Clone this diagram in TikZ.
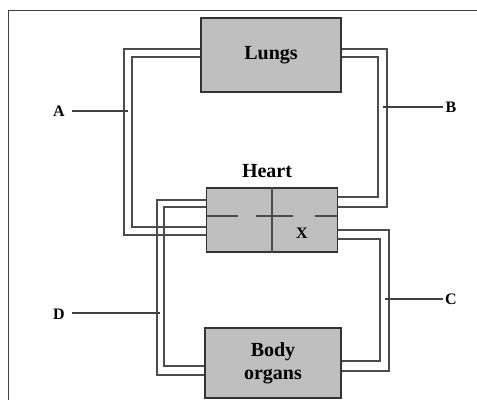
\documentclass[tikz,border=0pt]{standalone}
\usepackage{fontspec}
\setmainfont{Liberation Serif}
\begin{document}
\begin{tikzpicture}[x=1pt,y=-1pt,
  organ/.style={draw=black!80,line width=1.3pt,fill=black!25,inner sep=0pt,font=\fontsize{20}{23}\selectfont\bfseries,align=center},
  vessel/.style={draw=black!70,line width=1.2pt},
  pointer/.style={draw=black!75,line width=1.1pt},
  lbl/.style={font=\fontsize{16}{18}\selectfont\bfseries,inner sep=0pt}]
\useasboundingbox (0,0) rectangle (477,400);
\draw[black!75,line width=1pt] (8,400) -- (8,10) -- (477,10);
% boxes (as nodes)
\node[organ,minimum width=140pt,minimum height=74pt] (lungs) at (271,55) {Lungs};
\node[organ,minimum width=131pt,minimum height=64pt] (heart) at (272,220) {};
\node[organ,minimum width=136pt,minimum height=70pt] (body) at (273,363) {Body\\organs};
% vessels
\draw[vessel] (lungs.west |- 0,49) -| (124,235) -- (heart.west |- 0,235);
\draw[vessel] (lungs.west |- 0,57) -| (132,227) -- (heart.west |- 0,227);
\draw[vessel] (lungs.east |- 0,49) -| (387,207) -- (heart.east |- 0,207);
\draw[vessel] (lungs.east |- 0,57) -| (378,197) -- (heart.east |- 0,197);
\draw[vessel] (heart.east |- 0,230) -| (389,371) -- (body.east |- 0,371);
\draw[vessel] (heart.east |- 0,239) -| (380,361) -- (body.east |- 0,361);
\draw[vessel] (heart.west |- 0,200) -| (157,375) -- (body.west |- 0,375);
\draw[vessel] (heart.west |- 0,207) -| (164,366) -- (body.west |- 0,366);
% redraw boxes on top
\node[organ,minimum width=140pt,minimum height=74pt] at (lungs) {Lungs};
\node[organ,minimum width=131pt,minimum height=64pt] at (heart) {};
\node[organ,minimum width=136pt,minimum height=70pt] at (body) {Body\\organs};
% heart interior
\draw[black!70,line width=1.2pt] (heart.north -| 272,0) -- (heart.south -| 272,0);
\draw[black!70,line width=1.2pt] (heart.west |- 0,216) -- (238,216)
  (256,216) -- (293,216) (315,216) -- (heart.east |- 0,216);
\node[lbl] (x) at (302,233) {X};
\node[font=\fontsize{20}{23}\selectfont\bfseries,inner sep=0pt] (hl) at (267,171) {Heart};
% pointer labels
\node[lbl] (A) at (59,111) {A};
\coordinate (a) at (128,111);
\draw[pointer] (72,111) -- (a);
\node[lbl] (B) at (451,107) {B};
\coordinate (b) at (383,107);
\draw[pointer] (b) -- (443,107);
\node[lbl] (C) at (451,299) {C};
\coordinate (c) at (385,299);
\draw[pointer] (c) -- (443,299);
\node[lbl] (D) at (59,314) {D};
\coordinate (d) at (160,313);
\draw[pointer] (72,313) -- (d);
\end{tikzpicture}
\end{document}
